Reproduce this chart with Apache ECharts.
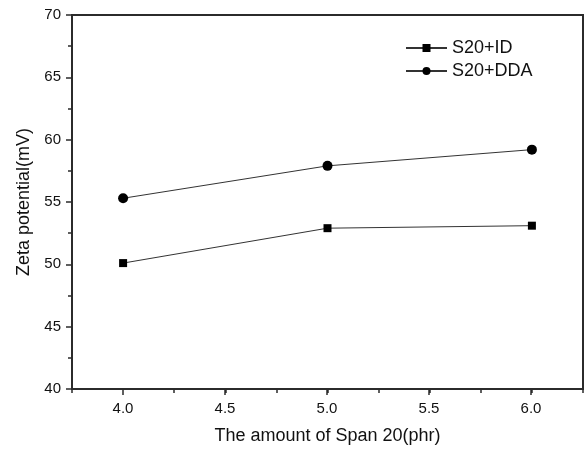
<!DOCTYPE html>
<html>
<head>
<meta charset="utf-8">
<script src="https://cdn.jsdelivr.net/npm/echarts@6/dist/echarts.min.js"></script>
<style>
    html, body { margin: 0; padding: 0; background: #fff; }
    #chart { width: 584px; height: 450px; }
</style>
</head>
<body>
<div id="chart"></div>
<script>
// Span 20 用量 vs Zeta 电位
var spanAmount = [4.0, 5.0, 6.0];
var idValues = [50.1, 52.9, 53.1];
var ddaValues = [55.3, 57.9, 59.2];
var seriesNames = ['S20+ID', 'S20+DDA'];
var xRange = [3.75, 6.25];
var xLabelRange = [4.0, 6.0];
var yRange = [40, 70];

(function () {
    var myChart = echarts.init(document.getElementById('chart'));
    var font = 'Liberation Sans, Arial, sans-serif';
    var axisColor = '#2b2b2b';

    var option = {
        animation: false,
        backgroundColor: '#fff',
        legend: {
            orient: 'vertical',
            left: 405,
            top: 39,
            padding: 0,
            itemWidth: 41,
            itemHeight: 10,
            itemGap: 5,
            textStyle: {
                fontFamily: font,
                fontSize: 18,
                color: '#111',
                lineHeight: 18
            },
            data: seriesNames
        },
        grid: [
            {
                left: 72, right: 1, top: 15, bottom: 61,
                show: true,
                borderColor: axisColor,
                borderWidth: 2
            },
            // 只用来画主刻度和标签（4.0 ~ 6.0）
            { left: 123, width: 408, top: 15, bottom: 61 }
        ],
        xAxis: [
            {
                type: 'value',
                gridIndex: 0,
                min: xRange[0],
                max: xRange[1],
                interval: 0.25,
                name: 'The amount of Span 20(phr)',
                nameLocation: 'middle',
                nameGap: 38,
                nameTextStyle: { fontFamily: font, fontSize: 18, color: '#111' },
                axisLine: { lineStyle: { color: axisColor, width: 2 } },
                axisTick: { length: 4, lineStyle: { color: axisColor, width: 1.5 } },
                axisLabel: { show: false },
                splitLine: { show: false }
            },
            {
                type: 'value',
                gridIndex: 1,
                min: xLabelRange[0],
                max: xLabelRange[1],
                interval: 0.5,
                axisLine: { show: false },
                axisTick: { length: 6, lineStyle: { color: axisColor, width: 1.5 } },
                axisLabel: {
                    margin: 12,
                    fontFamily: font,
                    fontSize: 15,
                    color: '#111',
                    formatter: function (v) { return v.toFixed(1); }
                },
                splitLine: { show: false }
            }
        ],
        yAxis: [
            {
                type: 'value',
                gridIndex: 0,
                min: yRange[0],
                max: yRange[1],
                interval: 5,
                name: 'Zeta potential(mV)',
                nameLocation: 'middle',
                nameGap: 39,
                nameTextStyle: { fontFamily: font, fontSize: 18, color: '#111' },
                axisLine: { lineStyle: { color: axisColor, width: 2 } },
                axisTick: { length: 6, lineStyle: { color: axisColor, width: 1.5 } },
                minorTick: { show: true, splitNumber: 2, length: 4, lineStyle: { color: axisColor, width: 1.5 } },
                axisLabel: { margin: 11, fontFamily: font, fontSize: 15, color: '#111' },
                splitLine: { show: false },
                minorSplitLine: { show: false }
            },
            {
                type: 'value',
                gridIndex: 1,
                min: yRange[0],
                max: yRange[1],
                show: false
            }
        ],
        series: [
            {
                name: seriesNames[0],
                type: 'line',
                xAxisIndex: 0,
                yAxisIndex: 0,
                symbol: 'rect',
                symbolSize: 8,
                itemStyle: { color: '#000' },
                lineStyle: { color: '#333', width: 1 },
                data: spanAmount.map(function (x, i) { return [x, idValues[i]]; })
            },
            {
                name: seriesNames[1],
                type: 'line',
                xAxisIndex: 0,
                yAxisIndex: 0,
                symbol: 'circle',
                symbolSize: 10,
                itemStyle: { color: '#000' },
                lineStyle: { color: '#333', width: 1 },
                data: spanAmount.map(function (x, i) { return [x, ddaValues[i]]; })
            }
        ]
    };
    myChart.setOption(option);
    window.addEventListener('resize', function () {
        myChart.resize();
    });
})();
</script>
</body>
</html>
